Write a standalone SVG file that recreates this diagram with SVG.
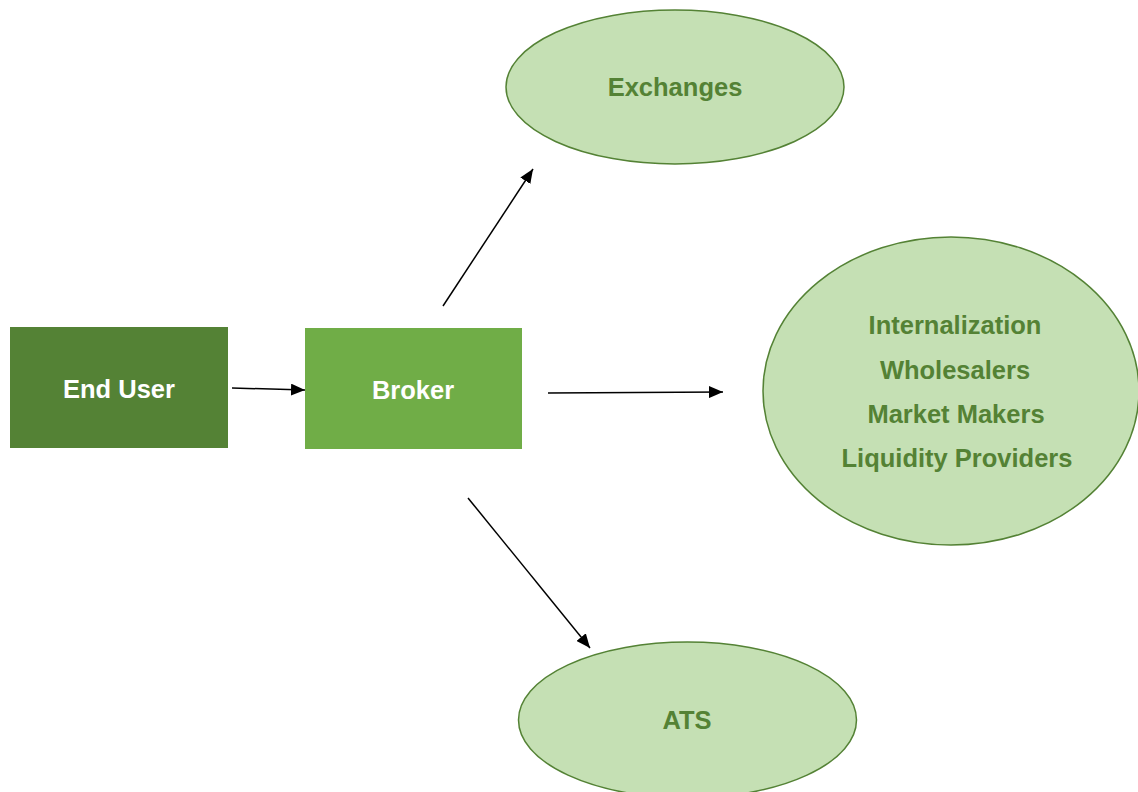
<svg xmlns="http://www.w3.org/2000/svg" width="1138" height="792" viewBox="0 0 1138 792">
  <style>
    .box-text { font-family: "Liberation Sans", Arial, sans-serif; font-weight: bold; font-size: 25.5px; fill: #ffffff; text-anchor: middle; dominant-baseline: central; }
    .oval { fill: #C5E0B4; stroke: #548235; stroke-width: 1.5; }
    .oval-text { font-family: "Liberation Sans", Arial, sans-serif; font-weight: bold; font-size: 25.5px; fill: #548235; text-anchor: middle; dominant-baseline: central; }
    .link { stroke: #000000; stroke-width: 1.5; fill: none; marker-end: url(#arrow); }
  </style>
  <defs>
    <marker id="arrow" viewBox="0 0 14 12" refX="14" refY="6" markerWidth="14" markerHeight="12" markerUnits="userSpaceOnUse" orient="auto">
      <path d="M0,0 L14,6 L0,12 Z" fill="#000000"/>
    </marker>
  </defs>
  <rect width="1138" height="792" fill="#ffffff"/>

  <g id="connectors">
    <line class="link" x1="232" y1="388" x2="305" y2="390"/>
    <line class="link" x1="443" y1="306" x2="533" y2="169"/>
    <line class="link" x1="548" y1="393" x2="723" y2="392"/>
    <line class="link" x1="468" y1="498" x2="590" y2="648"/>
  </g>

  <g id="end-user">
    <rect x="10" y="327" width="218" height="121" fill="#548235"/>
    <text class="box-text" x="119" y="389">End User</text>
  </g>

  <g id="broker">
    <rect x="305" y="328" width="217" height="121" fill="#70AD47"/>
    <text class="box-text" x="413" y="390">Broker</text>
  </g>

  <g id="exchanges">
    <ellipse class="oval" cx="675" cy="87" rx="169" ry="77"/>
    <text class="oval-text" x="675" y="87">Exchanges</text>
  </g>

  <g id="off-exchange">
    <ellipse class="oval" cx="951" cy="391" rx="188" ry="154"/>
    <text class="oval-text" x="955" y="325">Internalization</text>
    <text class="oval-text" x="955" y="370">Wholesalers</text>
    <text class="oval-text" x="956" y="414">Market Makers</text>
    <text class="oval-text" x="957" y="458">Liquidity Providers</text>
  </g>

  <g id="ats">
    <ellipse class="oval" cx="687.5" cy="720" rx="169" ry="78"/>
    <text class="oval-text" x="687" y="720">ATS</text>
  </g>
</svg>
